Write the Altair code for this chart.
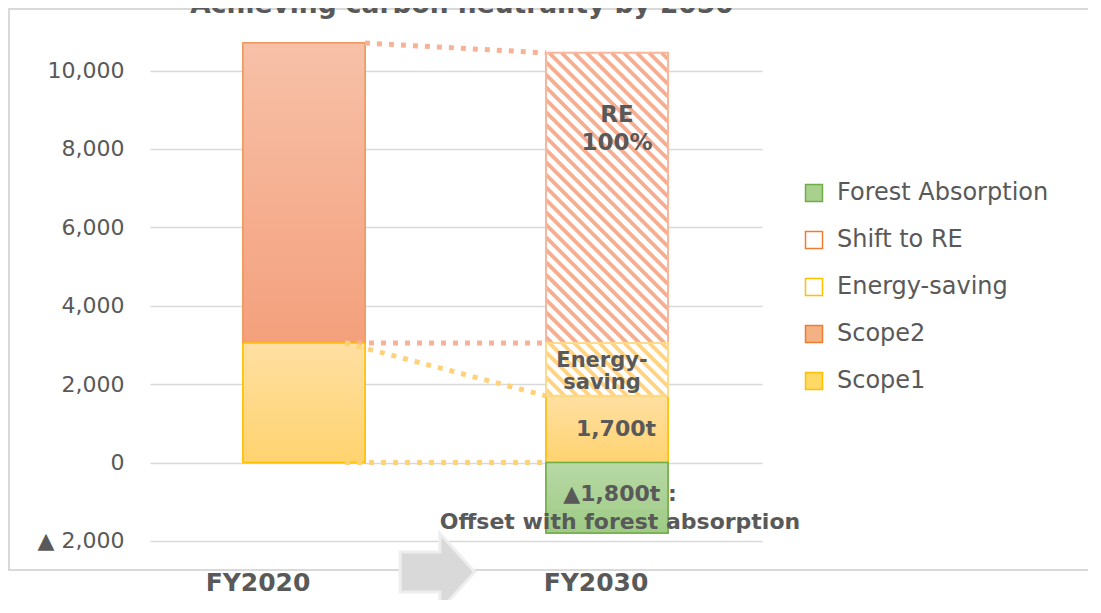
import altair as alt
import pandas as pd

# ---------------- data ----------------
CATEGORIES = ["FY2020", "FY2030"]
LEGEND_ORDER = ["Forest Absorption", "Shift to RE", "Energy-saving", "Scope2", "Scope1"]
FY2020_SERIES = ["Scope1", "Scope2"]
FY2020_VALUES = [3050, 7650]
FY2030_SERIES = ["Forest Absorption", "Scope1", "Energy-saving", "Shift to RE"]
FY2030_VALUES = [-1800, 1700, 1350, 7400]
Y_TICKS = [-2000, 0, 2000, 4000, 6000, 8000, 10000]
TITLE = "Achieving carbon neutrality by 2050"
LABEL_RE = "RE\n100%"
LABEL_ENERGY = "Energy-\nsaving"
LABEL_SCOPE1_2030 = "1,700t"
LABEL_FOREST = "▲1,800t :\nOffset with forest absorption"

# ---------------- layout / style ----------------
W, H = 612, 562
PAD = {"left": 142, "top": 0, "right": 326, "bottom": 30}
ZERO_PX = 454.5          # pixel of value 0 from plot top
PX_PER_Y = 0.0392        # pixels per unit on y
STEP_PX = 303.0          # pixels between category centres
FIRST_PX = 154.0         # pixel of first category centre from plot left
BAR_HALF = 61.0 / STEP_PX
INSET = 20.0 / STEP_PX
Y_MAX = ZERO_PX / PX_PER_Y
Y_MIN = Y_MAX - H / PX_PER_Y
X_MIN = 1 - FIRST_PX / STEP_PX
X_MAX = X_MIN + W / STEP_PX

FONT = "DejaVu Sans"
TXT = "#595959"
GRID = "#d9d9d9"
SALMON = "#f7b298"
YELLOW = "#ffd27a"
LEGEND_FILLS = ["#a9d18e", "#ffffff", "#ffffff", "#f4b183", "#ffd966"]
LEGEND_STROKES = ["#70ad47", "#ed7d31", "#ffc000", "#ed7d31", "#ffc000"]

def grad(top, bottom):
    return alt.Gradient(gradient="linear", x1=0, x2=0, y1=0, y2=1,
                        stops=[alt.GradientStop(color=top, offset=0),
                               alt.GradientStop(color=bottom, offset=1)])

# ---------------- derived tables ----------------
def stack(ci, series, values):
    rows, pos, neg = [], 0, 0
    for s, v in zip(series, values):
        if v >= 0:
            y0, y1 = pos, pos + v
            pos += v
        else:
            y0, y1 = neg + v, neg
            neg += v
        rows.append(dict(category=CATEGORIES[ci], pos=ci + 1, series=s, y0=y0, y1=y1))
    return rows

seg = pd.DataFrame(stack(0, FY2020_SERIES, FY2020_VALUES) + stack(1, FY2030_SERIES, FY2030_VALUES))
seg["xl"] = seg["pos"] - BAR_HALF
seg["xr"] = seg["pos"] + BAR_HALF

def seg_row(ci, s):
    return seg[(seg.pos == ci + 1) & (seg.series == s)].iloc[0]

top2020 = seg[seg.pos == 1].y1.max()
top2030 = seg[seg.pos == 2].y1.max()
s1_2020 = seg_row(0, "Scope1")
s1_2030 = seg_row(1, "Scope1")
re_2030 = seg_row(1, "Shift to RE")
es_2030 = seg_row(1, "Energy-saving")

conn = pd.DataFrame([
    dict(x=1 + BAR_HALF, y=top2020, x2=2 - BAR_HALF, y2=top2030, c=SALMON),
    dict(x=1 + BAR_HALF - INSET, y=s1_2020.y1, x2=2 - BAR_HALF, y2=re_2030.y0, c=SALMON),
    dict(x=1 + BAR_HALF - INSET, y=s1_2020.y1, x2=2 - BAR_HALF, y2=s1_2030.y1, c=YELLOW),
    dict(x=1 + BAR_HALF - INSET, y=0, x2=2 - BAR_HALF, y2=0, c=YELLOW),
])

def to_px(xd, yd):
    return (xd - X_MIN) * STEP_PX, ZERO_PX - yd * PX_PER_Y

def to_data(xp, yp):
    return X_MIN + xp / STEP_PX, (ZERO_PX - yp) / PX_PER_Y

def hatch(row, color, spacing=12.5):
    L, T = to_px(row.xl, row.y1)
    R, B = to_px(row.xr, row.y0)
    out = []
    c = T - R + spacing / 2
    while c < B - L:
        xa = max(L, T - c)
        xb = min(R, B - c)
        if xb > xa:
            x1d, y1d = to_data(xa, xa + c)
            x2d, y2d = to_data(xb, xb + c)
            out.append(dict(x=x1d, y=y1d, x2=x2d, y2=y2d, c=color))
        c += spacing
    return out

hatch_df = pd.DataFrame(hatch(re_2030, "#f6ad90") + hatch(es_2030, "#ffd37f"))

# ---------------- chart ----------------
xs = alt.Scale(domain=[X_MIN, X_MAX], nice=False, zero=False)
ys = alt.Scale(domain=[Y_MIN, Y_MAX], nice=False, zero=False)

y_axis = alt.Axis(values=Y_TICKS, title=None, domain=False, ticks=False, grid=True,
                  gridColor=GRID, gridWidth=1.5, labelPadding=26, labelFont=FONT,
                  labelFontSize=22, labelColor=TXT,
                  labelExpr="datum.value < 0 ? '\u25b2 ' + format(-datum.value, ',') : format(datum.value, ',')")

def XQ(f):
    return alt.X(f, type="quantitative", scale=xs, axis=None)

def YQ(f):
    return alt.Y(f, type="quantitative", scale=ys, axis=y_axis)

leg = alt.Legend(title=None, orient="none", legendX=652, legendY=173, symbolType="square",
                 symbolSize=289, symbolStrokeWidth=1.5, labelFont=FONT, labelFontSize=24,
                 labelColor=TXT, labelOffset=11, rowPadding=23, labelLimit=500)

def bars(df):
    return alt.Chart(df).encode(x=XQ("xl"), x2="xr:Q", y=YQ("y0"), y2="y1:Q")

frame_df = pd.DataFrame({"k": [0]})
frame = [
    alt.Chart(frame_df).mark_rule(color=GRID, strokeWidth=2).encode(
        x=alt.value(-PAD["left"]), x2=alt.value(W + PAD["right"]), y=alt.value(1)),
    alt.Chart(frame_df).mark_rule(color=GRID, strokeWidth=2).encode(
        x=alt.value(-PAD["left"]), x2=alt.value(W + PAD["right"]), y=alt.value(H)),
    alt.Chart(frame_df).mark_rule(color=GRID, strokeWidth=2).encode(
        x=alt.value(-PAD["left"] + 1), y=alt.value(0), y2=alt.value(H)),
]

ARROW = "M -0.97 -0.52 L 0.06 -0.52 L 0.06 -1 L 0.97 0 L 0.06 1 L 0.06 0.52 L -0.97 0.52 Z"
arrow = alt.Chart(frame_df).mark_point(shape=ARROW, size=5929, filled=True, fill="#d9d9d9",
                                        stroke="#eeeeee", strokeWidth=3, opacity=1).encode(
    x=alt.value(287.5), y=alt.value(564))

base = alt.Chart(seg).mark_bar(strokeWidth=1.5).encode(
    x=XQ("xl"), x2="xr:Q", y=YQ("y0"), y2="y1:Q",
    fill=alt.Fill("series:N", scale=alt.Scale(domain=LEGEND_ORDER, range=LEGEND_FILLS), legend=leg),
    stroke=alt.Stroke("series:N", scale=alt.Scale(domain=LEGEND_ORDER, range=LEGEND_STROKES), legend=leg),
)

scope2 = bars(seg[seg.series == "Scope2"]).mark_bar(fill=grad("#f7c1a8", "#f4a07c"), stroke="#f09a63", strokeWidth=1.5)
scope1 = bars(seg[seg.series == "Scope1"]).mark_bar(fill=grad("#ffe0a3", "#ffd36f"), stroke="#ffc000", strokeWidth=1.5)
forest = bars(seg[seg.series == "Forest Absorption"]).mark_bar(fill=grad("#b8d9a6", "#9ecb85"), stroke="#70ad47", strokeWidth=1.5)
white = bars(seg[seg.series.isin(["Shift to RE", "Energy-saving"])]).mark_bar(fill="#ffffff", strokeWidth=0)

hatch_layer = alt.Chart(hatch_df).mark_rule(strokeWidth=3.8, strokeCap="butt").encode(
    x=XQ("x"), x2="x2:Q", y=YQ("y"), y2="y2:Q",
    color=alt.Color("c:N", scale=None))

re_outline = bars(seg[seg.series == "Shift to RE"]).mark_bar(fill="transparent", stroke="#f8b69c", strokeWidth=2)
es_outline = bars(seg[seg.series == "Energy-saving"]).mark_bar(fill="transparent", stroke="#ffd98c", strokeWidth=2)

connectors = alt.Chart(conn).mark_rule(strokeWidth=5, strokeDash=[5, 7], strokeCap="butt").encode(
    x=XQ("x"), x2="x2:Q", y=YQ("y"), y2="y2:Q",
    color=alt.Color("c:N", scale=None))

def label(ci, anchor, text, dx, dy, size, line_h):
    df = pd.DataFrame({"x": [ci + 1], "y": [anchor], "t": [text]})
    return alt.Chart(df).mark_text(font=FONT, fontWeight="bold", fontSize=size, color=TXT,
                                   baseline="top", align="center", lineBreak="\n",
                                   lineHeight=line_h, dx=dx, dy=dy).encode(
        x=XQ("x"), y=YQ("y"), text="t:N")

labels = [
    label(1, re_2030.y1, LABEL_RE, 10, 51.4, 23, 28),
    label(1, es_2030.y1, LABEL_ENERGY, -5, 7.0, 21, 22),
    label(1, s1_2030.y1, LABEL_SCOPE1_2030, 9, 22.8, 22, 26),
    label(1, 0, LABEL_FOREST, 13, 21.2, 22, 28),
]

FY_DX = [-46, -11]
fy_labels = []
for i, cat in enumerate(CATEGORIES):
    df = pd.DataFrame({"x": [i + 1], "t": [cat]})
    fy_labels.append(alt.Chart(df).mark_text(font=FONT, fontWeight="bold", fontSize=25, color=TXT,
                                             baseline="alphabetic", align="center", dx=FY_DX[i]).encode(
        x=XQ("x"), y=alt.value(583), text="t:N"))

title = alt.Chart(pd.DataFrame({"t": [TITLE]})).mark_text(
    font=FONT, fontWeight="bold", fontSize=26.5, color=TXT, baseline="alphabetic", align="center").encode(
    x=alt.value(312), y=alt.value(5.3), text="t:N")

chart = alt.layer(
    *frame, arrow, base, scope2, scope1, forest, white, hatch_layer, re_outline, es_outline,
    connectors, *labels, *fy_labels, title
).properties(
    width=W, height=H, padding=PAD, autosize=alt.AutoSizeParams(type="none")
).configure_view(stroke=None)

chart.save("out.html", embed_options={"renderer": "svg", "actions": False})
